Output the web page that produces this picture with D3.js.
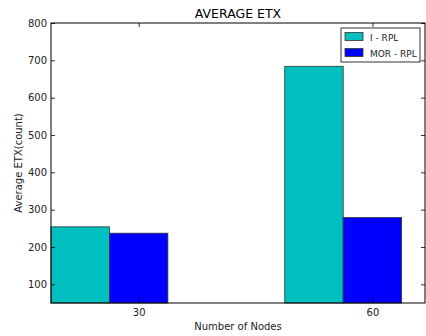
<!DOCTYPE html>
<html>
<head>
<meta charset="utf-8">
<script src="https://cdn.jsdelivr.net/npm/d3@7"></script>
<style>
  html, body { margin: 0; padding: 0; background: #fff; }
  svg { display: block; font-family: "DejaVu Sans", sans-serif; }
</style>
</head>
<body>
<svg id="chart" width="426" height="336"></svg>
<script>
// Average ETX per network size for the two routing protocols
const nodeCounts = [30, 60];
const seriesNames = ["I - RPL", "MOR - RPL"];
const iRplValues = [254, 684];
const morRplValues = [237, 279];
const yTicks = [100, 200, 300, 400, 500, 600, 700, 800];
const seriesColors = ["#00bfbf", "#0000ff"];

const svg = d3.select("#chart");
const plotLeft = 51, plotRight = 425, plotTop = 23, plotBottom = 303;

// bars sit at integer group positions; first series offset one bar-width left
const barW = 0.25;
const x = d3.scaleLinear().domain([-0.375, 1.225]).range([plotLeft, plotRight]);
const y = d3.scaleLinear().domain([50, 800]).range([plotBottom, plotTop]);

const series = [iRplValues, morRplValues];
const g = svg.append("g");

series.forEach((vals, si) => {
  g.selectAll(null)
    .data(vals)
    .enter()
    .append("rect")
    .attr("x", (d, i) => x(i - barW * (1 - si) - barW / 2))
    .attr("width", x(barW) - x(0))
    .attr("y", d => y(d))
    .attr("height", d => y(50) - y(d))
    .attr("fill", seriesColors[si])
    .attr("stroke", "#333")
    .attr("stroke-width", 0.8);
});

// axes with inward ticks on all four sides
const tickFmt = d3.format("d");
const yAxisL = d3.axisLeft(y).tickValues(yTicks).tickSizeInner(-4).tickSizeOuter(0).tickPadding(4).tickFormat(tickFmt);
const yAxisR = d3.axisRight(y).tickValues(yTicks).tickSizeInner(-4).tickSizeOuter(0).tickFormat("");
const xAxisB = d3.axisBottom(x).tickValues([0, 1]).tickSizeInner(-4).tickSizeOuter(0).tickPadding(6)
  .tickFormat((d, i) => nodeCounts[i]);
const xAxisT = d3.axisTop(x).tickValues([0, 1]).tickSizeInner(-4).tickSizeOuter(0).tickFormat("");

function styleAxis(sel) {
  sel.select(".domain").remove();
  sel.selectAll(".tick line").attr("stroke", "#000").attr("stroke-width", 0.8);
  sel.selectAll(".tick text").attr("fill", "#222").style("font-size", "10px")
     .style("font-family", "'DejaVu Sans', sans-serif");
}
svg.append("g").attr("transform", `translate(${plotLeft},0)`).call(yAxisL).call(styleAxis);
svg.append("g").attr("transform", `translate(${plotRight},0)`).call(yAxisR).call(styleAxis);
svg.append("g").attr("transform", `translate(0,${plotBottom})`).call(xAxisB).call(styleAxis);
svg.append("g").attr("transform", `translate(0,${plotTop})`).call(xAxisT).call(styleAxis);

// frame
svg.append("rect")
  .attr("x", plotLeft).attr("y", plotTop)
  .attr("width", plotRight - plotLeft).attr("height", plotBottom - plotTop)
  .attr("fill", "none").attr("stroke", "#000").attr("stroke-width", 1);

// title and axis labels
svg.append("text")
  .attr("x", (plotLeft + plotRight) / 2).attr("y", 18)
  .attr("text-anchor", "middle")
  .style("font-size", "12.5px").attr("fill", "#000")
  .text("AVERAGE ETX");

svg.append("text")
  .attr("x", (plotLeft + plotRight) / 2).attr("y", 330)
  .attr("text-anchor", "middle")
  .style("font-size", "10px").attr("fill", "#222")
  .text("Number of Nodes");

svg.append("text")
  .attr("transform", `translate(22,${(plotTop + plotBottom) / 2}) rotate(-90)`)
  .attr("text-anchor", "middle")
  .style("font-size", "10px").attr("fill", "#222")
  .text("Average ETX(count)");

// legend
const lg = svg.append("g").attr("transform", "translate(341,28)");
lg.append("rect")
  .attr("width", 79).attr("height", 34)
  .attr("fill", "#fff").attr("stroke", "#000").attr("stroke-width", 0.8);
seriesNames.forEach((name, i) => {
  lg.append("rect")
    .attr("x", 4).attr("y", 4.5 + i * 16)
    .attr("width", 18).attr("height", 8)
    .attr("fill", seriesColors[i]).attr("stroke", "#333").attr("stroke-width", 0.8);
  lg.append("text")
    .attr("x", 29).attr("y", 12.5 + i * 16)
    .style("font-size", "9px").attr("fill", "#222")
    .text(name);
});
</script>
</body>
</html>
